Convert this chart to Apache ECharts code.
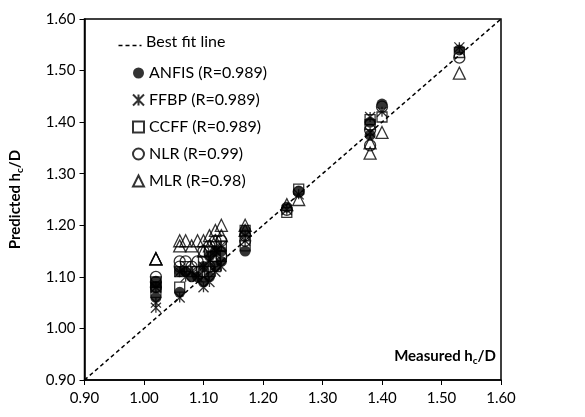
<!DOCTYPE html>
<html style="height: 100%">
  <head>
    <meta charset="utf-8" />
  </head>
  <body style="height: 100%; margin: 0; background: #fff">
    <div id="container" style="width: 585px; height: 417px"></div>
    <script src="https://cdn.jsdelivr.net/npm/echarts@6/dist/echarts.min.js"></script>
    <script type="text/javascript">
      // measured h_c/D (shared by all models)
      var measured = [1.02, 1.02, 1.02, 1.06, 1.06, 1.07, 1.08, 1.09, 1.10, 1.10, 1.11, 1.11,
                      1.12, 1.12, 1.13, 1.13, 1.17, 1.17, 1.24, 1.26, 1.38, 1.38, 1.40, 1.53];
      // predicted h_c/D per model
      var anfis = [1.06, 1.08, 1.09, 1.07, 1.11, 1.11, 1.10, 1.10, 1.09, 1.12, 1.10, 1.14,
                   1.12, 1.15, 1.13, 1.15, 1.15, 1.19, 1.235, 1.265, 1.375, 1.40, 1.435, 1.54];
      var ffbp = [1.04, 1.05, 1.08, 1.06, 1.11, 1.10, 1.11, 1.10, 1.08, 1.12, 1.09, 1.13,
                  1.11, 1.15, 1.12, 1.16, 1.17, 1.18, 1.23, 1.26, 1.38, 1.41, 1.42, 1.545];
      var ccff = [1.07, 1.08, 1.09, 1.08, 1.11, 1.12, 1.11, 1.11, 1.10, 1.13, 1.11, 1.15,
                  1.12, 1.14, 1.14, 1.16, 1.16, 1.19, 1.225, 1.27, 1.395, 1.405, 1.41, 1.535];
      var nlr = [1.08, 1.09, 1.10, 1.12, 1.13, 1.13, 1.12, 1.13, 1.11, 1.15, 1.12, 1.16,
                 1.13, 1.17, 1.14, 1.17, 1.17, 1.18, 1.23, 1.265, 1.355, 1.385, 1.43, 1.525];
      var mlr = [1.135, 1.135, 1.135, 1.16, 1.17, 1.17, 1.16, 1.17, 1.15, 1.17, 1.16, 1.18,
                 1.17, 1.19, 1.18, 1.20, 1.19, 1.20, 1.24, 1.25, 1.34, 1.36, 1.38, 1.495];
      var fitLine = [[0.9, 0.9], [1.6, 1.6]];

      var names = ["ANFIS (R=0.989)", "FFBP (R=0.989)", "CCFF (R=0.989)", "NLR (R=0.99)", "MLR (R=0.98)"];

      function pairs(ys) {
        return measured.map(function (x, i) { return [x, ys[i]]; });
      }

      var fontFamily = "Lato, 'DejaVu Sans', sans-serif";
      var hollow = { color: "rgba(0,0,0,0)", borderColor: "#000", borderWidth: 1.3 };

      var myChart = echarts.init(document.getElementById("container"));

      var option = {
        backgroundColor: "#fff",
        animation: false,
        textStyle: { fontFamily: fontFamily, color: "#000" },
        grid: {
          left: 83, right: 84, top: 19, bottom: 37,
          show: true, borderColor: "#000", borderWidth: 1.5, backgroundColor: "transparent"
        },
        legend: {
          orient: "vertical",
          left: 127, top: 60,
          itemWidth: 11, itemHeight: 11, itemGap: 11,
          textStyle: { fontSize: 16, lineHeight: 16, color: "#000", fontFamily: fontFamily },
          data: names
        },
        xAxis: {
          type: "value", min: 0.9, max: 1.6, interval: 0.1,
          axisLine: { lineStyle: { color: "#000", width: 1.5 } },
          axisTick: { show: true, length: 5, lineStyle: { color: "#000" } },
          axisLabel: { fontSize: 15, color: "#000", margin: 11, formatter: function (v) { return v.toFixed(2); } },
          splitLine: { show: false }
        },
        yAxis: {
          type: "value", min: 0.9, max: 1.6, interval: 0.1,
          name: "{b|Predicted h}{s|c}{b|/D}",
          nameLocation: "middle", nameGap: 60,
          nameTextStyle: {
            rich: {
              b: { fontSize: 15, fontWeight: "bold", color: "#000", fontFamily: fontFamily },
              s: { fontSize: 10, fontWeight: "bold", color: "#000", fontFamily: fontFamily, padding: [8, 0, 0, 0] }
            }
          },
          axisLine: { lineStyle: { color: "#000", width: 1.5 } },
          axisTick: { show: true, length: 5, lineStyle: { color: "#000" } },
          axisLabel: { fontSize: 15, color: "#000", margin: 9, formatter: function (v) { return v.toFixed(2); } },
          splitLine: { show: false }
        },
        graphic: [
          {
            // legend entry for the dashed best fit line
            type: "line", left: 116, top: 43,
            shape: { x1: 0, y1: 0, x2: 23, y2: 0 },
            style: { stroke: "#000", lineWidth: 1.5, lineDash: [4, 3] }
          },
          {
            type: "text", left: 146, top: 34,
            style: { text: "Best fit line", fontSize: 16, fontFamily: fontFamily, fill: "#000" }
          },
          {
            type: "text",
            right: 89, top: 349,
            style: {
              text: "{b|Measured h}{s|c}{b|/D}",
              rich: {
                b: { fontSize: 15, fontWeight: "bold", fill: "#000", fontFamily: fontFamily },
                s: { fontSize: 10, fontWeight: "bold", fill: "#000", fontFamily: fontFamily, padding: [8, 0, 0, 0] }
              }
            }
          }
        ],
        series: [
          {
            name: "Best fit line", type: "line", data: fitLine,
            symbol: "none", silent: true,
            lineStyle: { color: "#000", width: 1.5, type: [4, 3] },
            itemStyle: { color: "#000" }, z: 1
          },
          {
            name: names[0], type: "scatter", data: pairs(anfis),
            symbol: "circle", symbolSize: 11,
            itemStyle: { color: "#000" }
          },
          {
            name: names[1], type: "scatter", data: pairs(ffbp),
            symbol: "path://M0,0L10,10M10,0L0,10M5,0L5,10", symbolSize: 10,
            itemStyle: hollow
          },
          {
            name: names[2], type: "scatter", data: pairs(ccff),
            symbol: "rect", symbolSize: 10,
            itemStyle: hollow
          },
          {
            name: names[3], type: "scatter", data: pairs(nlr),
            symbol: "circle", symbolSize: 11,
            itemStyle: hollow
          },
          {
            name: names[4], type: "scatter", data: pairs(mlr),
            symbol: "triangle", symbolSize: 12,
            itemStyle: hollow
          }
        ]
      };

      myChart.setOption(option);
    </script>
  </body>
</html>
